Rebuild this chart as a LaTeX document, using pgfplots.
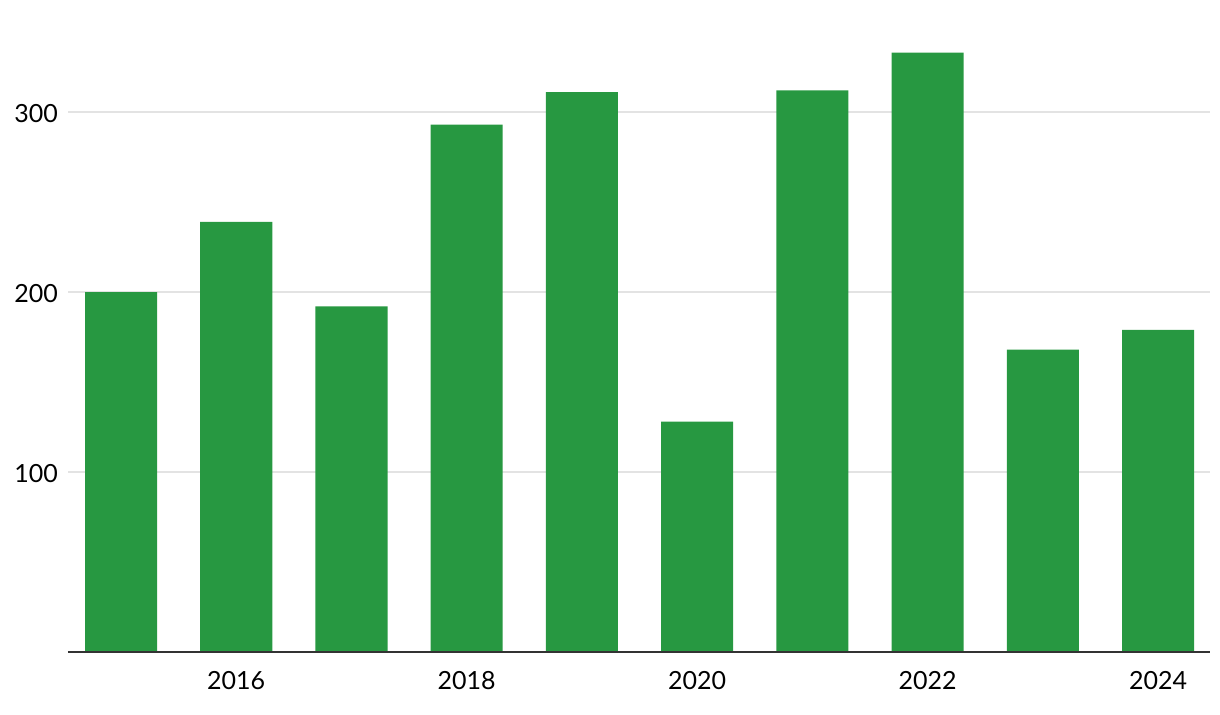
\documentclass[border=0pt]{standalone}
\usepackage{pgfplots}
\pgfplotsset{compat=1.18}
\usepackage{fontspec}
\setmainfont{Lato}
\definecolor{bargreen}{HTML}{279841}
\definecolor{gridgray}{HTML}{E3E3E3}
\definecolor{axisdark}{HTML}{333333}
\begin{document}
\begin{tikzpicture}
\useasboundingbox (-34pt,-31pt) rectangle (576pt,326pt);
\begin{axis}[
  at={(0,0)}, anchor=origin,
  scale only axis,
  width=571pt, height=306pt,
  xmin=2014.54, xmax=2024.45,
  ymin=0, ymax=340,
  axis x line*=bottom,
  axis y line*=left,
  x axis line style={draw=axisdark, line width=1pt, -},
  y axis line style={draw=none},
  xtick={2016,2018,2020,2022,2024},
  xticklabels={2016,2018,2020,2022,2024},
  ytick={100,200,300},
  major tick length=0pt,
  ymajorgrids,
  grid style={draw=gridgray, line width=0.75pt},
  tick label style={font=\fontsize{12.5}{14}\selectfont, text=black},
  xticklabel style={yshift=-6pt},
  yticklabel style={xshift=-1.5pt, yshift=-1pt},
  /pgf/number format/assume math mode=true,
  /pgf/number format/1000 sep={},
  clip=false,
]
\end{axis}
\begin{axis}[
  at={(0,0)}, anchor=origin,
  scale only axis,
  width=571pt, height=306pt,
  xmin=2014.54, xmax=2024.45,
  ymin=0, ymax=340,
  hide axis,
  ybar, bar width=0.625, bar shift=0pt,
]
\addplot[fill=bargreen, draw=none] coordinates {
(2015,200) (2016,239) (2017,192) (2018,293) (2019,311)
(2020,128) (2021,312) (2022,333) (2023,168) (2024,179)
};
\end{axis}
\begin{axis}[
  at={(0,0)}, anchor=origin,
  scale only axis,
  width=571pt, height=306pt,
  xmin=2014.54, xmax=2024.45,
  ymin=0, ymax=340,
  axis x line*=bottom,
  axis y line*=left,
  y axis line style={draw=none},
  x axis line style={draw=axisdark, line width=1pt, -},
  xtick=\empty, ytick=\empty,
]
\end{axis}
\end{tikzpicture}
\end{document}
